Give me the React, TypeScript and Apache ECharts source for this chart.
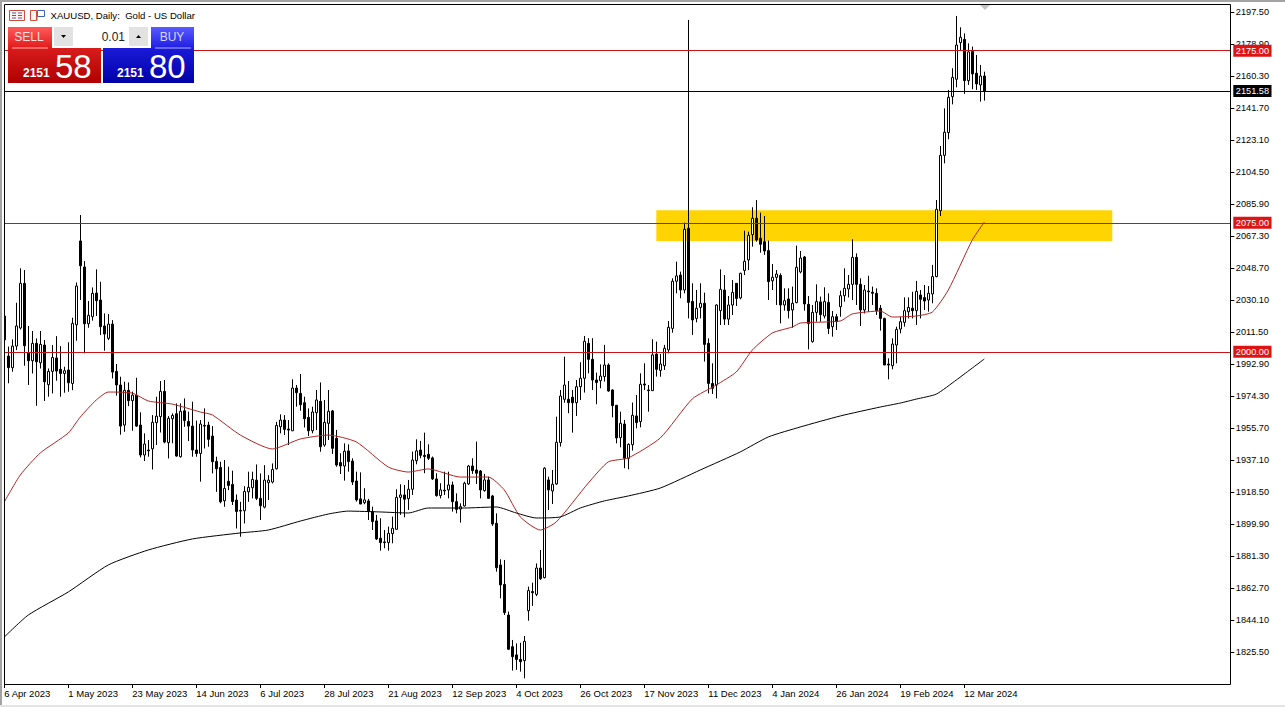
import React, { useEffect, useRef } from "react";
import * as echarts from "echarts";

const opens = [
  2020.8,1997.5,1990.8,2003.3,2013.8,2039.8,1999.5,1994.8,2004.9,1993.6,
  2003.9,1980.9,1988.6,1996.4,1989.8,1987.4,1989.4,1981.6,2015.7,2064.4,
  2049.3,2016.3,2020.4,2034.1,2030.1,2015.0,2007.8,2016.1,1988.6,1980.7,
  1957.4,1977.6,1971.6,1974.8,1957.4,1940.0,1942.9,1943.6,1958.8,1962.3,
  1977.0,1947.2,1961.1,1964.0,1939.0,1965.7,1959.5,1956.8,1942.9,1940.9,
  1957.2,1957.4,1951.0,1936.3,1932.8,1913.4,1924.7,1922.9,1913.8,1907.8,
  1907.6,1918.6,1921.0,1925.4,1914.8,1909.7,1923.9,1924.3,1932.0,1956.4,
  1960.3,1955.1,1954.1,1978.9,1975.8,1970.4,1961.9,1954.1,1964.6,1971.2,
  1945.8,1958.4,1965.6,1949.7,1935.6,1933.6,1942.4,1936.5,1924.9,1914.5,
  1912.3,1913.3,1907.1,1901.7,1891.6,1889.5,1889.1,1894.3,1896.8,1915.4,
  1916.8,1914.6,1920.1,1936.7,1942.9,1939.8,1940.4,1938.3,1926.1,1916.4,
  1919.5,1919.7,1922.6,1912.9,1908.6,1910.4,1923.2,1933.6,1931.3,1930.7,
  1919.3,1925.5,1916.2,1900.3,1876.1,1864.8,1847.0,1828.6,1823.8,1821.2,
  1820.5,1849.5,1860.6,1859.0,1874.3,1868.7,1925.5,1919.1,1923.2,1947.2,
  1972.4,1972.4,1973.6,1970.4,1979.7,1984.6,2004.9,1995.6,1983.6,1983.2,
  1985.6,1992.3,1977.8,1968.9,1950.1,1958.0,1938.1,1946.0,1962.7,1959.4,
  1981.3,1977.8,1977.4,1998.7,1989.2,1991.9,2001.1,2013.6,2041.0,2044.6,
  2035.9,2071.8,2029.3,2019.4,2025.8,2028.2,2004.9,1981.6,1980.7,2023.9,
  2035.9,2019.0,2027.2,2039.8,2031.3,2047.3,2053.4,2068.1,2077.6,2066.0,
  2064.0,2058.8,2041.3,2043.3,2044.4,2027.2,2030.7,2024.3,2028.6,2046.4,
  2055.1,2027.6,2005.9,2022.9,2029.0,2020.8,2028.7,2014.6,2020.4,2026.2,
  2032.6,2036.5,2039.2,2054.9,2039.2,2024.3,2035.3,2034.6,2034.0,2025.3,
  2019.4,1992.9,1991.9,2003.9,2013.2,2017.1,2023.3,2025.3,2023.9,2033.0,
  2031.5,2030.1,2033.6,2043.7,2082.0,2114.2,2127.4,2148.3,2158.4,2179.7,
  2181.6,2157.6,2174.5,2161.9,2155.1,2160.3,
];
const closes = [
  2006.9,1990.8,2003.3,2015.0,2039.8,2003.5,1994.8,2004.9,1994.2,2004.3,
  1982.6,1988.6,1996.7,1988.8,1987.4,1989.0,1982.0,2016.5,2038.2,2050.0,
  2016.3,2021.2,2034.0,2029.7,2014.6,2010.3,2016.1,1988.2,1980.7,1956.8,
  1977.6,1971.6,1974.8,1956.8,1940.0,1946.4,1942.5,1959.0,1962.6,1977.0,
  1947.5,1961.3,1963.0,1939.4,1965.4,1960.0,1956.8,1942.9,1940.9,1958.0,
  1956.8,1949.1,1936.1,1932.0,1912.8,1920.6,1922.3,1913.0,1907.2,1907.4,
  1918.8,1921.2,1925.8,1914.8,1910.5,1925.4,1925.4,1931.6,1957.2,1960.3,
  1954.9,1954.5,1978.9,1976.2,1969.2,1961.1,1954.1,1965.0,1972.0,1944.8,
  1959.0,1965.4,1943.9,1934.2,1933.6,1942.2,1936.2,1924.3,1913.9,1911.5,
  1913.9,1907.5,1901.3,1891.2,1889.1,1889.1,1894.5,1897.4,1915.4,1916.8,
  1914.3,1920.1,1937.1,1942.4,1939.8,1939.1,1938.1,1926.1,1916.4,1919.7,
  1919.1,1922.6,1912.9,1908.4,1910.0,1923.6,1933.6,1930.9,1929.4,1919.7,
  1925.5,1914.8,1899.9,1874.5,1864.5,1848.4,1827.1,1822.8,1821.2,1819.9,
  1831.7,1861.2,1860.0,1874.3,1868.1,1932.3,1919.7,1923.0,1947.4,1974.3,
  1980.7,1970.4,1970.4,1979.7,1984.6,2006.1,1995.6,1983.6,1982.1,1985.9,
  1992.3,1977.2,1968.7,1949.9,1958.4,1938.1,1946.2,1963.1,1958.8,1981.1,
  1980.7,1977.4,1998.2,1989.8,1992.9,2002.0,2014.2,2041.0,2044.1,2035.9,
  2071.2,2028.7,2018.5,2025.3,2028.2,2004.3,1981.6,1978.8,2027.2,2036.3,
  2019.0,2027.2,2034.5,2031.0,2045.6,2052.6,2067.7,2077.6,2065.0,2062.5,
  2058.6,2040.8,2043.3,2045.2,2027.2,2029.7,2023.9,2028.2,2049.1,2054.5,
  2027.8,2016.5,2022.9,2029.2,2021.6,2029.2,2013.6,2020.4,2017.5,2032.6,
  2036.9,2039.2,2054.9,2039.2,2024.3,2035.9,2034.9,2034.0,2023.9,2019.4,
  1992.3,1992.3,2004.5,2013.0,2017.5,2023.9,2025.8,2023.9,2035.1,2030.5,
  2029.5,2034.0,2043.7,2082.8,2114.2,2127.6,2147.9,2159.5,2178.3,2182.8,
  2157.6,2174.3,2161.5,2155.7,2160.3,2151.58,
];
const highs = [
  2021.5,2003.0,2007.2,2028.5,2048.5,2047.5,2015.0,2012.1,2007.8,2012.1,
  2006.8,1990.3,2003.9,2009.1,2003.3,1991.3,2005.5,2019.8,2040.3,2079.5,
  2052.7,2029.5,2037.4,2047.9,2040.7,2022.3,2021.9,2018.4,1992.9,1985.5,
  1982.6,1982.2,1976.8,1984.9,1964.8,1952.6,1948.7,1963.2,1973.9,1983.0,
  1983.6,1962.6,1964.2,1970.0,1970.0,1972.9,1965.2,1971.0,1960.0,1960.3,
  1967.1,1959.3,1956.8,1939.0,1936.1,1937.1,1933.2,1930.9,1917.1,1912.8,
  1921.9,1930.3,1930.3,1934.5,1929.3,1934.1,1928.3,1935.1,1959.3,1963.6,
  1963.2,1960.3,1984.0,1980.7,1987.1,1973.9,1967.1,1968.1,1977.8,1982.2,
  1972.0,1977.8,1966.2,1954.6,1941.0,1946.8,1946.2,1938.1,1930.3,1929.9,
  1920.7,1914.5,1910.0,1905.2,1903.2,1896.4,1898.4,1904.2,1920.1,1923.0,
  1922.6,1925.5,1942.0,1949.1,1948.2,1953.0,1946.2,1939.1,1929.4,1923.6,
  1930.3,1930.3,1924.5,1917.7,1911.9,1924.5,1934.2,1938.1,1947.8,1931.3,
  1929.0,1927.4,1916.8,1906.1,1879.4,1879.0,1849.0,1832.5,1830.5,1830.9,
  1834.8,1863.5,1865.8,1877.0,1884.8,1932.9,1927.4,1931.3,1962.3,1977.8,
  1997.2,1983.0,1977.8,1983.6,1993.9,2009.2,2007.9,2007.9,1987.9,1992.7,
  2004.0,1993.3,1978.2,1969.1,1965.2,1960.4,1946.8,1970.5,1974.9,1987.5,
  1993.3,1980.7,2007.3,2005.9,1998.7,2004.0,2017.9,2042.7,2052.4,2046.6,
  2075.1,2192.9,2039.8,2035.9,2039.8,2034.4,2007.8,1993.3,2027.6,2047.9,
  2044.6,2032.4,2041.7,2039.8,2046.0,2070.4,2069.8,2084.0,2088.2,2080.9,
  2078.9,2064.6,2051.0,2047.5,2045.6,2036.9,2036.9,2037.9,2061.7,2058.6,
  2055.7,2032.4,2027.2,2039.2,2032.1,2037.5,2034.0,2023.7,2022.0,2035.5,
  2048.5,2044.6,2065.4,2057.2,2042.7,2038.8,2044.2,2037.9,2036.9,2027.2,
  2019.8,1996.2,2007.8,2014.6,2020.4,2031.6,2031.6,2034.9,2041.2,2035.9,
  2038.8,2038.2,2050.5,2088.2,2119.6,2141.5,2152.2,2164.8,2195.2,2188.6,
  2185.1,2179.3,2177.4,2172.5,2166.7,2162.8,
];
const lows = [
  2006.0,1981.7,1988.4,2001.0,2013.0,1991.9,1980.7,1987.4,1968.6,1990.3,
  1971.4,1973.9,1975.8,1983.2,1973.9,1976.2,1976.8,1977.7,2006.4,2030.1,
  1999.1,2014.0,2018.1,2020.8,2009.7,2000.6,2006.8,1984.5,1974.5,1951.8,
  1953.5,1968.4,1954.1,1956.4,1938.6,1936.5,1939.0,1931.6,1945.8,1953.1,
  1946.8,1938.0,1946.8,1939.0,1938.5,1956.4,1948.1,1939.0,1939.0,1924.5,
  1943.8,1944.8,1929.3,1918.6,1911.9,1909.9,1919.6,1910.9,1897.3,1892.5,
  1900.2,1912.8,1914.8,1913.8,1902.2,1909.0,1913.8,1923.5,1931.6,1952.6,
  1951.6,1945.8,1953.9,1968.1,1965.7,1956.0,1951.0,1952.6,1954.5,1941.9,
  1944.8,1948.7,1940.6,1933.2,1929.0,1925.1,1930.3,1922.6,1912.9,1911.5,
  1911.4,1902.2,1896.4,1890.6,1884.4,1885.8,1884.4,1888.7,1896.8,1905.2,
  1903.8,1908.1,1916.8,1934.6,1938.1,1929.4,1937.1,1925.5,1915.8,1914.8,
  1916.8,1914.8,1907.1,1906.1,1900.7,1910.0,1922.6,1929.0,1923.2,1914.8,
  1918.7,1914.8,1898.8,1872.2,1856.7,1847.0,1826.7,1814.7,1815.1,1814.1,
  1810.2,1843.7,1852.3,1858.0,1867.4,1868.3,1908.0,1911.5,1922.6,1944.9,
  1970.4,1964.3,1953.0,1962.7,1972.0,1976.3,1987.5,1977.8,1969.5,1978.8,
  1982.7,1976.8,1961.9,1946.8,1944.5,1932.3,1931.7,1942.6,1955.5,1956.1,
  1977.8,1965.2,1977.2,1985.6,1985.5,1989.4,1999.1,2011.1,2034.0,2031.1,
  2034.0,2019.4,2009.8,2017.1,2019.4,1994.3,1975.8,1975.5,1972.9,2015.6,
  2015.6,2015.6,2021.4,2026.6,2030.5,2044.6,2047.5,2061.1,2064.0,2057.6,
  2056.3,2030.1,2035.9,2027.2,2016.5,2023.9,2019.4,2014.0,2028.2,2045.6,
  2023.9,2001.4,2005.3,2017.5,2017.5,2019.4,2010.3,2008.8,2012.7,2020.4,
  2029.1,2031.6,2030.1,2027.2,2015.0,2022.3,2023.3,2027.2,2021.4,2012.3,
  1992.3,1984.0,1989.8,1993.3,2010.7,2014.6,2019.4,2019.4,2015.6,2019.4,
  2024.3,2023.3,2028.2,2043.3,2078.9,2109.5,2123.5,2143.8,2153.7,2175.0,
  2149.9,2155.1,2152.6,2152.2,2145.4,2146.0,
];

const redMaBars = [0,4,9,16,19,23,26,32,36,42,49,52,59,67,74,81,88,96,101,106,114,121,125,129,134,138,146,151,156,164,172,178,183,187,192,197,199,209,212,219,222,228,232,236,242,245];
const redMaValues = [1912.7,1928.4,1941.2,1952.8,1962.1,1972.0,1976.6,1976.0,1971.4,1969.6,1965.0,1963.3,1951.6,1943.5,1949.3,1951.6,1947.6,1933.0,1930.1,1931.9,1927.2,1927.2,1919.7,1904.0,1896.4,1901.1,1923.7,1936.0,1938.3,1949.9,1972.6,1980.7,1988.3,2001.0,2010.9,2014.4,2016.7,2017.9,2022.0,2023.7,2020.2,2020.8,2023.1,2035.9,2065.0,2075.4];
const blackMaBars = [0,6,16,26,36,47,59,66,74,81,86,94,101,106,115,123,128,133,139,144,150,156,164,174,184,191,199,209,219,224,228,233,238,245];
const blackMaValues = [1834.2,1847.0,1860.4,1876.1,1884.8,1891.2,1894.7,1896.4,1901.6,1905.7,1907.4,1906.9,1906.3,1909.2,1909.2,1909.8,1906.3,1903.4,1904.0,1909.2,1913.3,1916.2,1920.8,1931.3,1941.8,1950.5,1956.3,1962.7,1967.9,1970.2,1972.5,1975.4,1983.6,1995.8];

const dateLabels = ["6 Apr 2023","1 May 2023","23 May 2023","14 Jun 2023","6 Jul 2023","28 Jul 2023","21 Aug 2023","12 Sep 2023","4 Oct 2023","26 Oct 2023","17 Nov 2023","11 Dec 2023","4 Jan 2024","26 Jan 2024","19 Feb 2024","12 Mar 2024"];
const priceTicks = [1825.5,1844.1,1862.7,1881.3,1899.9,1918.5,1937.1,1955.7,1974.3,1992.9,2011.5,2030.1,2048.7,2067.3,2085.9,2104.5,2123.1,2141.7,2160.3,2178.9,2197.5];
const redLevels = [2175, 2075, 2000];
const lastPrice = 2151.58;
const zoneBars = [163, 277];
const zonePrices = [2082.2, 2064.4];
const barSlots = 307;
const labelStep = 16;

const uiFont = '"Liberation Sans", Arial, sans-serif';

function gradient(top: string, bottom: string) {
  return new echarts.graphic.LinearGradient(0, 0, 0, 1, [
    { offset: 0, color: top },
    { offset: 1, color: bottom },
  ]);
}
function box(x: number, y: number, width: number, height: number, fill: any, z = 60, stroke?: string) {
  return { type: "rect", z, shape: { x, y, width, height }, style: { fill, stroke, lineWidth: stroke ? 1 : 0 }, silent: true };
}
function label(text: string, x: number, y: number, font: string, fill: string, align = "left", z = 62) {
  return { type: "text", z, silent: true, style: { text, x, y, font, fill, align, verticalAlign: "middle" } };
}

const panelGraphics = [
  // window chrome
  box(0, 0, 2, 707, "#a3a3a3", 40),
  box(2, 0, 2, 707, "#ffffff", 40),
  box(0, 0, 1285, 2, "#a3a3a3", 40),
  box(0, 705, 1285, 2, "#e4e4e4", 40),
  box(4.5, 4.5, 1226, 680, "none", 41, "#000000"),
  // chart-shift marker
  { type: "polygon", z: 41, silent: true, shape: { points: [[980, 5], [990, 5], [985, 10]] }, style: { fill: "#c4c4c4" } },
  // header icons
  box(9.5, 10.5, 15, 10, "#fff2ee", 60, "#c8503c"),
  box(12, 12.5, 4, 1, "#3c64b4"), box(18, 12.5, 4, 1, "#3c64b4"),
  box(12, 15, 4, 1, "#3c64b4"), box(18, 15, 4, 1, "#3c64b4"),
  box(12, 17.5, 4, 1, "#3c64b4"), box(18, 17.5, 4, 1, "#3c64b4"),
  box(30.5, 10.5, 6, 10, "#fff2ee", 60, "#c8503c"),
  box(37.5, 10.5, 7, 6, "#ffffff", 60, "#3c64b4"),
  box(36.5, 10.5, 1, 10, "#c8503c"),
  label("XAUUSD, Daily:  Gold - US Dollar", 50.5, 15.5, `9.6px ${uiFont}`, "#000000"),
  // sell side
  box(8, 48, 93, 35, gradient("#d81c1c", "#b00000")),
  box(8, 27, 44, 22, gradient("#ff5a5a", "#e01818")),
  box(12, 47.5, 36, 1, "#ffb0b0", 61),
  label("SELL", 29, 37, `12px ${uiFont}`, "#ffe0e0", "center"),
  label("2151", 23, 72.5, `bold 12px ${uiFont}`, "#ffffff"),
  label("58", 55, 66, `33px ${uiFont}`, "#ffffff"),
  // buy side
  box(103, 48, 91, 35, gradient("#1a1ad8", "#0000a8")),
  box(151, 27, 43, 22, gradient("#5a5aff", "#1c1ce0")),
  box(155, 47.5, 36, 1, "#b0b0ff", 61),
  label("BUY", 172, 37, `12px ${uiFont}`, "#d8d8ff", "center"),
  label("2151", 117, 72.5, `bold 12px ${uiFont}`, "#ffffff"),
  label("80", 149, 66, `33px ${uiFont}`, "#ffffff"),
  // lot-size control
  box(52, 26, 98, 22, "#ffffff"),
  box(54, 27, 19, 19, "#e2e2e2", 61),
  box(129, 27, 19, 19, "#e2e2e2", 61),
  { type: "polygon", z: 62, silent: true, shape: { points: [[61, 35], [66, 35], [63.5, 38]] }, style: { fill: "#000" } },
  { type: "polygon", z: 62, silent: true, shape: { points: [[136, 38], [141, 38], [138.5, 35]] }, style: { fill: "#000" } },
  label("0.01", 125, 36.5, `12px ${uiFont}`, "#222222", "right"),
];

export default function App() {
  const ref = useRef<HTMLDivElement>(null);
  useEffect(() => {
    const chart = echarts.init(ref.current!, undefined, { renderer: "svg" });
    const categories = Array.from({ length: barSlots }, (_, i) =>
      i % labelStep === 0 && dateLabels[i / labelStep] ? dateLabels[i / labelStep] : ""
    );
    const labelled = (_: number, value: string) => value !== "";
    const tag = (bg: string) => ({
      show: true,
      position: "end",
      distance: 3,
      formatter: (p: any) => Number(p.value).toFixed(2),
      backgroundColor: bg,
      color: "#ffffff",
      fontFamily: uiFont,
      fontSize: 9.2,
      padding: [1.5, 2.5, 1.5, 2.5],
    });
    chart.setOption({
      animation: false,
      backgroundColor: "#ffffff",
      grid: { left: 2.3, top: 5, width: 1228, height: 679, containLabel: false },
      xAxis: {
        type: "category",
        data: categories,
        boundaryGap: true,
        axisLine: { show: false },
        axisTick: { show: true, alignWithLabel: true, interval: labelled, length: 4, lineStyle: { color: "#000" } },
        axisLabel: {
          interval: labelled,
          align: "left",
          margin: 4,
          color: "#000",
          fontFamily: uiFont,
          fontSize: 9.5,
        },
        splitLine: { show: false },
      },
      yAxis: {
        type: "value",
        position: "right",
        min: 1806.9,
        max: 2201.57,
        scale: true,
        axisLine: { show: false },
        axisTick: { show: true, length: 4, customValues: priceTicks, lineStyle: { color: "#000" } },
        axisLabel: {
          customValues: priceTicks,
          margin: 5.5,
          color: "#000",
          fontFamily: uiFont,
          fontSize: 9.2,
          formatter: (v: number) => v.toFixed(2),
        },
        splitLine: { show: false },
      },
      series: [
        {
          type: "line",
          name: "zone",
          z: 1,
          data: [],
          symbol: "none",
          silent: true,
          markArea: {
            silent: true,
            itemStyle: { color: "#ffd400", opacity: 1 },
            data: [[
              { xAxis: zoneBars[0], yAxis: zonePrices[0] },
              { xAxis: zoneBars[1], yAxis: zonePrices[1] },
            ]],
          },
        },
        {
          type: "candlestick",
          name: "XAUUSD",
          z: 3,
          barWidth: 3,
          silent: true,
          data: opens.map((o, i) => [o, closes[i], lows[i], highs[i]]),
          itemStyle: {
            color: "#ffffff",
            color0: "#000000",
            borderColor: "#000000",
            borderColor0: "#000000",
            borderWidth: 1,
          },
          markLine: {
            silent: true,
            symbol: "none",
            animation: false,
            data: [
              ...redLevels.map((v) => ({
                yAxis: v,
                lineStyle: { color: "#c81414", width: 1, type: "solid" },
                label: tag("#dc1414"),
              })),
              {
                yAxis: lastPrice,
                lineStyle: { color: "#000000", width: 1, type: "solid" },
                label: tag("#000000"),
              },
            ],
          },
        },
        {
          type: "line",
          name: "MA 50",
          z: 4,
          symbol: "none",
          silent: true,
          smooth: 0.2,
          data: redMaBars.map((b, i) => [b, redMaValues[i]]),
          lineStyle: { color: "#b42222", width: 1 },
        },
        {
          type: "line",
          name: "MA 200",
          z: 4,
          symbol: "none",
          silent: true,
          smooth: 0.2,
          data: blackMaBars.map((b, i) => [b, blackMaValues[i]]),
          lineStyle: { color: "#000000", width: 1 },
        },
      ],
      graphic: panelGraphics,
    });
    return () => chart.dispose();
  }, []);
  return (
    <div
      ref={ref}
      style={{ position: "fixed", left: 0, top: 0, width: 1285, height: 707, background: "#fff" }}
    />
  );
}
